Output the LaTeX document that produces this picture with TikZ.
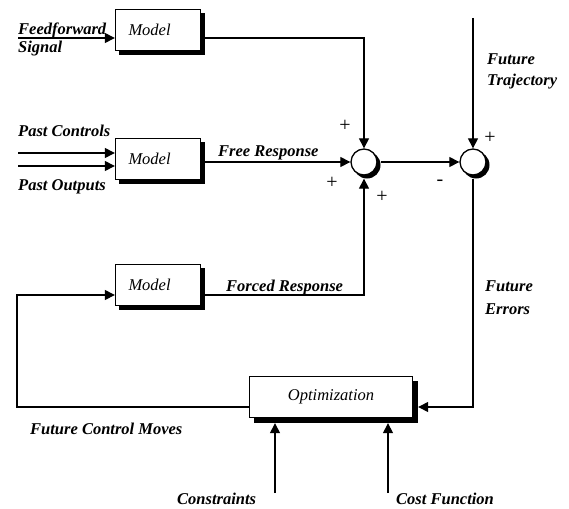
\documentclass[tikz,border=0pt]{standalone}
\usepackage{fontspec}
\setmainfont{Liberation Serif}
\usetikzlibrary{arrows.meta,calc}
\begin{document}
\begin{tikzpicture}[x=1pt,y=-1pt,
  lbl/.style={font=\fontsize{16.5}{18}\selectfont\bfseries\itshape, inner sep=0pt, anchor=base west},
  blk/.style={draw, line width=1.3pt, fill=white,
    font=\fontsize{16.5}{18}\selectfont\itshape, minimum height=41pt, inner ysep=0pt},
  modelbox/.style={blk, inner xsep=13pt, text width=59pt, align=left},
  sumc/.style={circle, draw, line width=1.3pt, fill=white, minimum size=26pt, inner sep=0pt},
  sgn/.style={font=\fontsize{20}{20}\selectfont, inner sep=0pt},
  shadowfill/.style={fill=black},
  ln/.style={line width=1.1pt},
  arr/.style={ln, -{Triangle[length=10pt,width=10pt]}},
]
\useasboundingbox (0,0) rectangle (569,508);

% circle shadows (behind)
\coordinate (c1p) at (364,162);
\coordinate (c2p) at (473,162);
\fill[shadowfill] ($(c1p)+(3,3)$) circle [radius=13.5pt];
\fill[shadowfill] ($(c2p)+(3,3)$) circle [radius=13.5pt];

% blocks
\node[modelbox] (m1) at (158,30) {Model};
\node[modelbox] (m2) at (158,159) {Model};
\node[modelbox] (m3) at (158,285) {Model};
\node[blk, minimum width=163pt, inner xsep=0pt] (opt) at (331,397) {Optimization};
\node[sumc] (c1) at (c1p) {};
\node[sumc] (c2) at (c2p) {};

% box shadows (strips outside the boxes)
\foreach \b/\s in {m1/4, m2/4, m3/4, opt/5} {
  \fill[shadowfill] ($(\b.north east)+(0,\s)$) rectangle ($(\b.south east)+(\s,\s)$);
  \fill[shadowfill] ($(\b.south west)+(\s,0)$) rectangle ($(\b.south east)+(\s,\s)$);
}

% free ends
\coordinate (ffin) at (18,38);
\coordinate (pc) at (18,153);
\coordinate (po) at (18,166);
\coordinate (ft) at (473,18);
\coordinate (lp) at (17,295);
\coordinate (cs) at (275,493);
\coordinate (cf) at (388,493);

% connectors
\draw[arr] (ffin) -- (ffin -| m1.west);
\draw[arr] ($(m1.east |- ffin)+(4,0)$) -| (c1.north);
\draw[arr] (pc) -- (pc -| m2.west);
\draw[arr] (po) -- (po -| m2.west);
\draw[arr] ($(m2.east |- c1.west)+(4,0)$) -- (c1.west);
\draw[arr] ($(m3.east)+(4,10)$) -| ($(c1.south)+(0,3)$);
\draw[arr] (ft) -- (c2.north);
\draw[arr] ($(c1.east)+(3,0)$) -- (c2.west);
\draw[arr] ($(c2.south)+(0,3)$) |- ($(opt.east)+(5,10)$);
\draw[arr] ($(opt.west)+(0,10)$) -| (lp) -- (lp -| m3.west);
\draw[arr] (cs) -- ($(cs |- opt.south)+(0,5)$);
\draw[arr] (cf) -- ($(cf |- opt.south)+(0,5)$);

% labels
\node[lbl] at (18,35) {Feedforward};
\node[lbl] at (18,53) {Signal};
\node[lbl] at (18,136) {Past Controls};
\node[lbl] at (18,190) {Past Outputs};
\node[lbl] at (218,156) {Free Response};
\node[lbl] at (226,291) {Forced Response};
\node[lbl] at (487,65) {Future};
\node[lbl] at (487,85) {Trajectory};
\node[lbl] at (485,291) {Future};
\node[lbl] at (485,314) {Errors};
\node[lbl] at (30,434) {Future Control Moves};
\node[lbl] at (177,504) {Constraints};
\node[lbl] at (396,504) {Cost Function};

% signs
\node[sgn] at (345,126) {+};
\node[sgn] at (332,183) {+};
\node[sgn] at (382,197) {+};
\node[sgn] at (490,138) {+};
\node[sgn] at (440,183) {-};
\end{tikzpicture}
\end{document}
